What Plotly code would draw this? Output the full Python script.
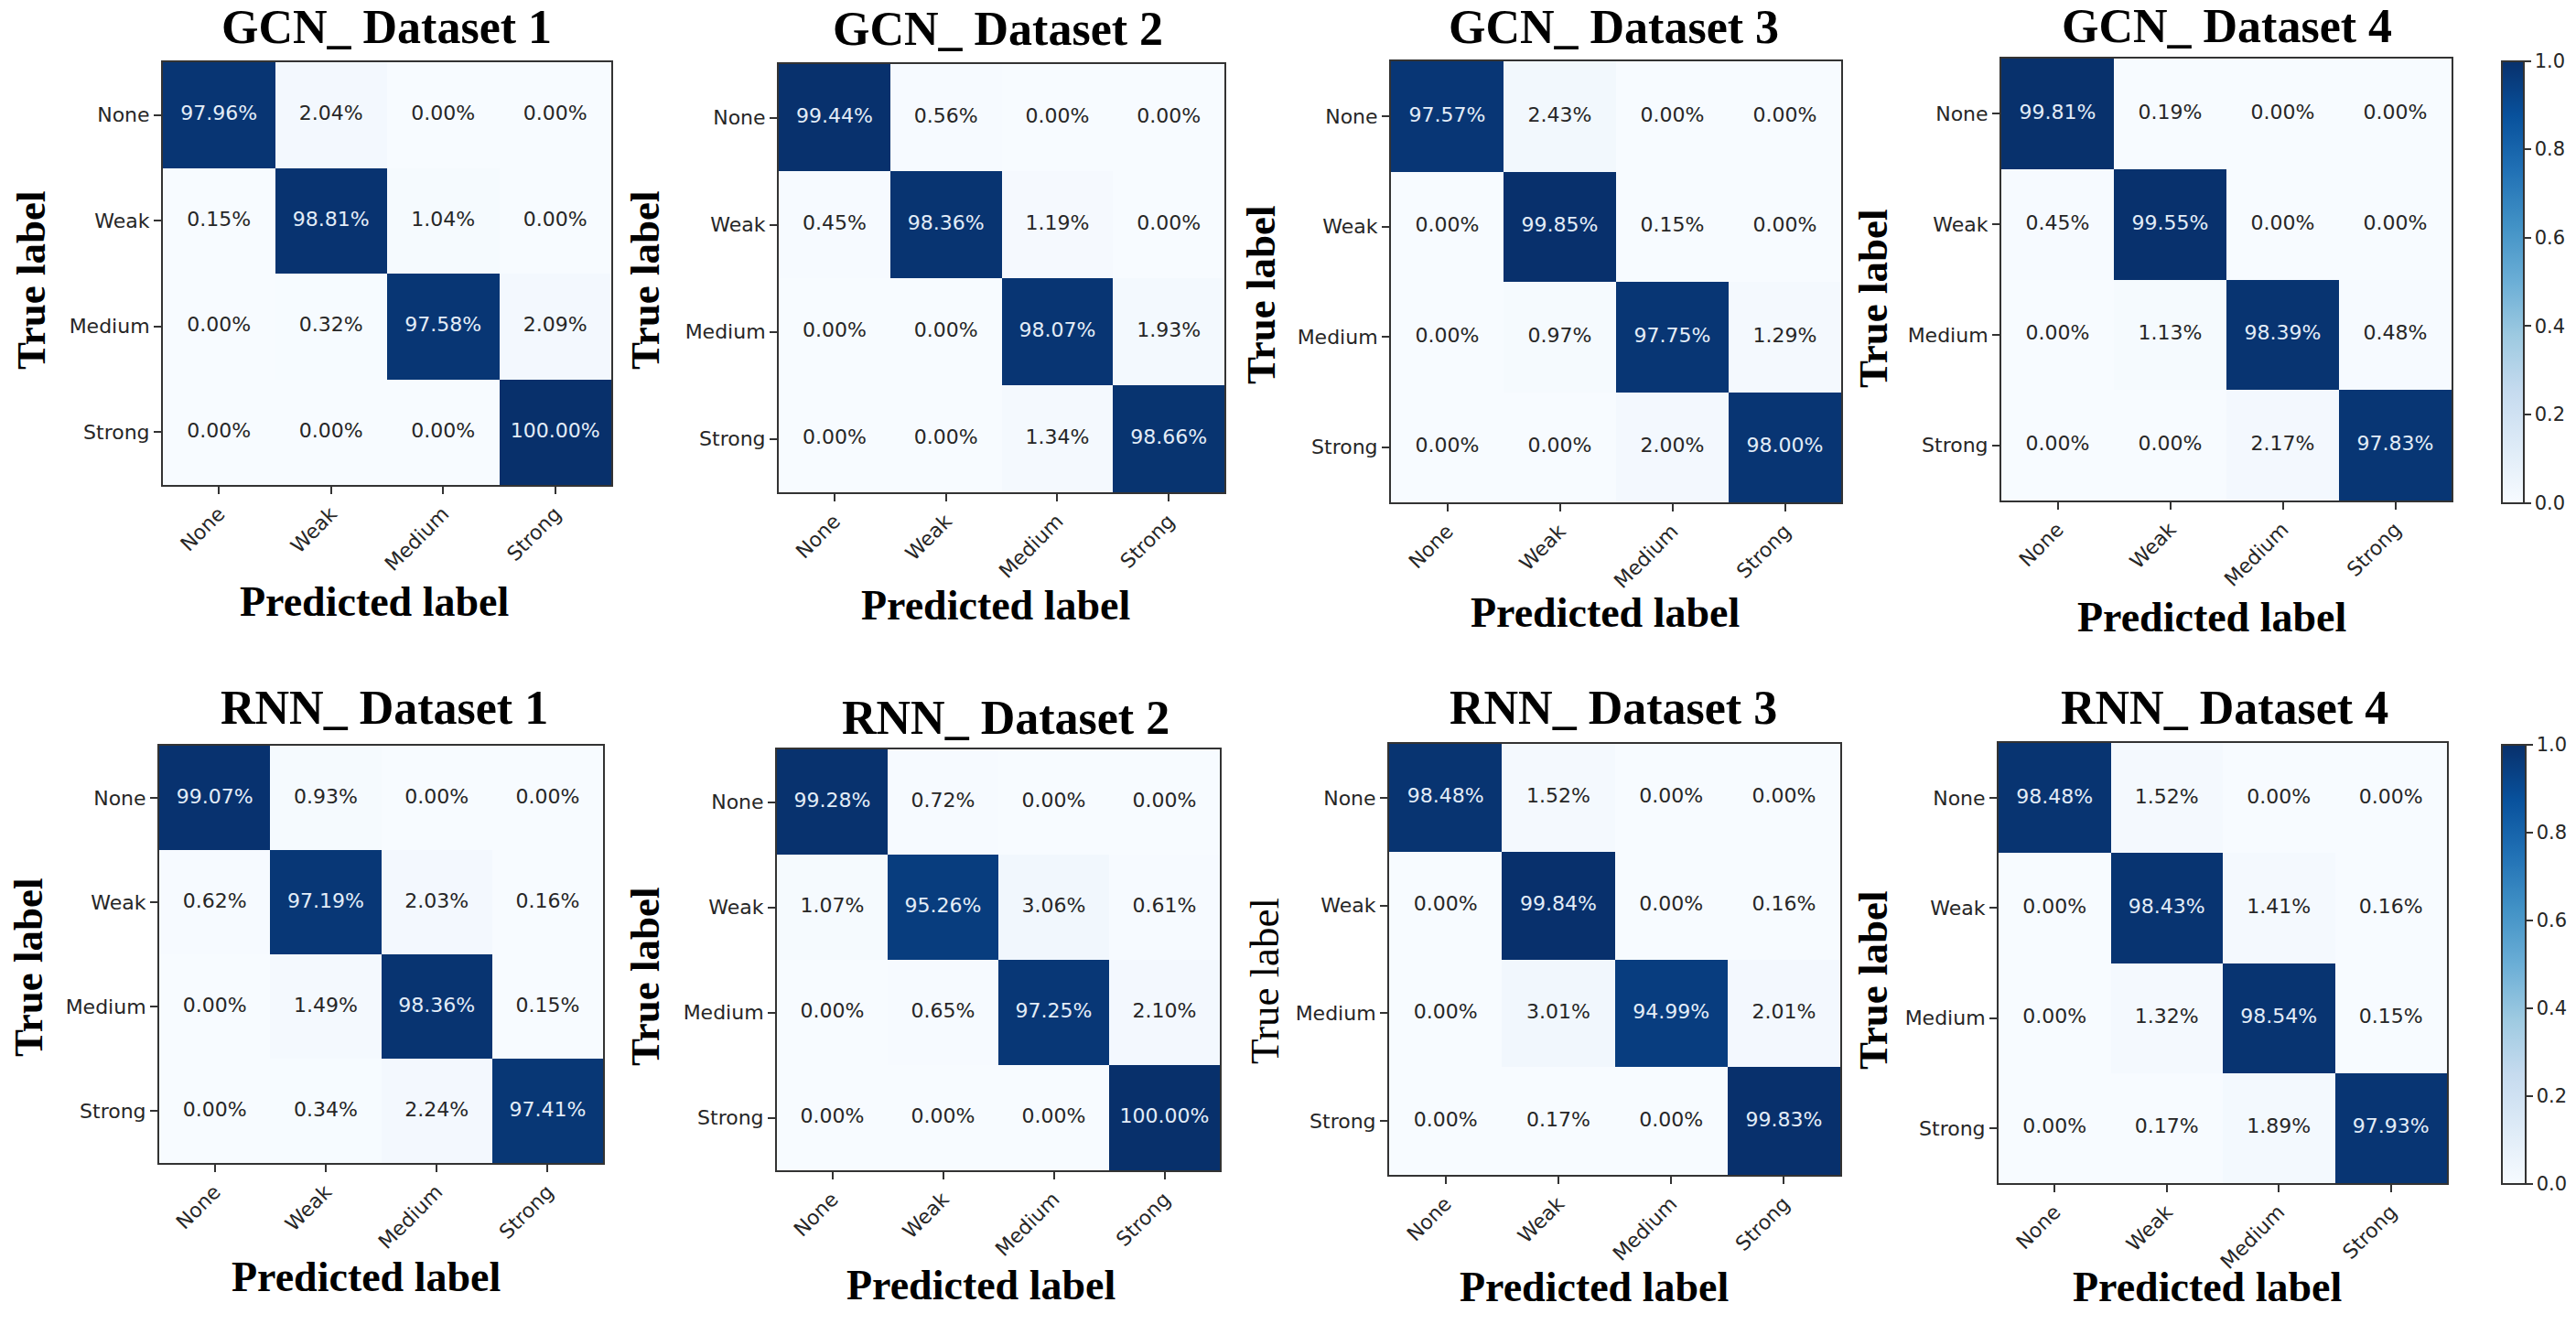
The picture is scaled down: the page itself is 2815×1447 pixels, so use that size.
import plotly.graph_objects as go

# Class names used on both axes
classes = ["None", "Weak", "Medium", "Strong"]

# Confusion matrices in percent (rows = true label, columns = predicted label)
gcn_d1 = [[97.96, 2.04, 0.00, 0.00],
          [0.15, 98.81, 1.04, 0.00],
          [0.00, 0.32, 97.58, 2.09],
          [0.00, 0.00, 0.00, 100.00]]
gcn_d2 = [[99.44, 0.56, 0.00, 0.00],
          [0.45, 98.36, 1.19, 0.00],
          [0.00, 0.00, 98.07, 1.93],
          [0.00, 0.00, 1.34, 98.66]]
gcn_d3 = [[97.57, 2.43, 0.00, 0.00],
          [0.00, 99.85, 0.15, 0.00],
          [0.00, 0.97, 97.75, 1.29],
          [0.00, 0.00, 2.00, 98.00]]
gcn_d4 = [[99.81, 0.19, 0.00, 0.00],
          [0.45, 99.55, 0.00, 0.00],
          [0.00, 1.13, 98.39, 0.48],
          [0.00, 0.00, 2.17, 97.83]]
rnn_d1 = [[99.07, 0.93, 0.00, 0.00],
          [0.62, 97.19, 2.03, 0.16],
          [0.00, 1.49, 98.36, 0.15],
          [0.00, 0.34, 2.24, 97.41]]
rnn_d2 = [[99.28, 0.72, 0.00, 0.00],
          [1.07, 95.26, 3.06, 0.61],
          [0.00, 0.65, 97.25, 2.10],
          [0.00, 0.00, 0.00, 100.00]]
rnn_d3 = [[98.48, 1.52, 0.00, 0.00],
          [0.00, 99.84, 0.00, 0.16],
          [0.00, 3.01, 94.99, 2.01],
          [0.00, 0.17, 0.00, 99.83]]
rnn_d4 = [[98.48, 1.52, 0.00, 0.00],
          [0.00, 98.43, 1.41, 0.16],
          [0.00, 1.32, 98.54, 0.15],
          [0.00, 0.17, 1.89, 97.93]]

matrices = [gcn_d1, gcn_d2, gcn_d3, gcn_d4, rnn_d1, rnn_d2, rnn_d3, rnn_d4]
titles = ["GCN_ Dataset 1", "GCN_ Dataset 2", "GCN_ Dataset 3", "GCN_ Dataset 4",
          "RNN_ Dataset 1", "RNN_ Dataset 2", "RNN_ Dataset 3", "RNN_ Dataset 4"]

# Colorbar ticks
cbar_ticks = [0.0, 0.2, 0.4, 0.6, 0.8, 1.0]

W, H = 2815, 1447

# Pixel boxes of each heatmap (left, right, top, bottom) - the panels are a bit misaligned
boxes = [(178, 668, 68, 530), (851, 1338, 70, 538), (1520, 2012, 67, 549), (2187, 2679, 64, 547),
         (174, 659, 815, 1271), (849, 1333, 819, 1279), (1518, 2011, 813, 1284), (2184, 2674, 812, 1293)]
# Title, x-title and y-title centres in pixels
title_pos = [(422, 30), (1090, 32), (1763, 30), (2433, 28),
             (420, 773), (1099, 784), (1763, 773), (2431, 773)]
xlab_pos = [(409, 657), (1088, 661), (1754, 670), (2417, 675),
            (400, 1395), (1072, 1404), (1742, 1406), (2412, 1406)]
ylab_pos = [(34, 307), (705, 307), (1378, 323), (2047, 326),
            (31, 1058), (705, 1068), (1382, 1072), (2047, 1071)]
ylab_bold = [True, True, True, True, True, True, False, True]

# matplotlib "Blues"
blues = [[0.0, "#f7fbff"], [0.125, "#deebf7"], [0.25, "#c6dbef"], [0.375, "#9ecae1"],
         [0.5, "#6baed6"], [0.625, "#4292c6"], [0.75, "#2171b5"], [0.875, "#08519c"],
         [1.0, "#08306b"]]

tick_font = dict(family="DejaVu Sans", size=22, color="#262626")
line_col = "#333333"

fig = go.Figure()
layout_axes = {}
annotations = []

for i, m in enumerate(matrices):
    n = str(i + 1) if i > 0 else ""
    ca = "coloraxis" if i < 4 else "coloraxis2"

    # heatmap cells (fraction 0..1 for the colour scale)
    z = [[v / 100 for v in row] for row in m]
    fig.add_trace(go.Heatmap(
        z=z, x=classes, y=classes, coloraxis=ca,
        xaxis="x" + n, yaxis="y" + n, hoverinfo="skip"
    ))

    # cell text
    tx, ty, tt, tc = [], [], [], []
    for r, row in enumerate(m):
        for c, v in enumerate(row):
            tx.append(classes[c])
            ty.append(classes[r])
            tt.append(f"{v:.2f}%")
            tc.append("#e3edf8" if v > 50 else "#262626")
    fig.add_trace(go.Scatter(
        x=tx, y=ty, text=tt, mode="text",
        textfont=dict(family="DejaVu Sans", size=22, color=tc),
        xaxis="x" + n, yaxis="y" + n, showlegend=False, hoverinfo="skip"
    ))

    left, right, top, bottom = boxes[i]
    layout_axes["xaxis" + n] = dict(
        domain=[left / W, right / W], anchor="y" + n,
        categoryorder="array", categoryarray=classes, range=[-0.5, 3.5],
        tickangle=-45, ticks="outside", ticklen=8, tickwidth=2, tickcolor=line_col,
        tickfont=tick_font, showline=True, mirror=True, linecolor=line_col, linewidth=2,
        showgrid=False, zeroline=False, fixedrange=True
    )
    layout_axes["yaxis" + n] = dict(
        domain=[1 - bottom / H, 1 - top / H], anchor="x" + n,
        categoryorder="array", categoryarray=classes, range=[3.5, -0.5],
        ticks="outside", ticklen=8, tickwidth=2, tickcolor=line_col,
        tickfont=tick_font, showline=True, mirror=True, linecolor=line_col, linewidth=2,
        showgrid=False, zeroline=False, fixedrange=True
    )

    # panel title
    annotations.append(dict(
        text=titles[i], x=title_pos[i][0] / W, y=1 - title_pos[i][1] / H,
        xref="paper", yref="paper", xanchor="center", yanchor="middle", showarrow=False,
        font=dict(family="Liberation Serif", size=52, color="black", weight="bold")
    ))
    # x axis label
    annotations.append(dict(
        text="Predicted label", x=xlab_pos[i][0] / W, y=1 - xlab_pos[i][1] / H,
        xref="paper", yref="paper", xanchor="center", yanchor="middle", showarrow=False,
        font=dict(family="Liberation Serif", size=46, color="black", weight="bold")
    ))
    # y axis label
    annotations.append(dict(
        text="True label", x=ylab_pos[i][0] / W, y=1 - ylab_pos[i][1] / H, textangle=-90,
        xref="paper", yref="paper", xanchor="center", yanchor="middle", showarrow=False,
        font=dict(family="Liberation Serif", size=45, color="black",
                  weight="bold" if ylab_bold[i] else "normal")
    ))


def make_colorbar(x_left, y_mid, length, thick):
    return dict(
        x=x_left / W, xanchor="left", xpad=0, y=1 - y_mid / H, yanchor="middle", ypad=0,
        len=length, lenmode="pixels", thickness=thick, thicknessmode="pixels",
        outlinecolor=line_col, outlinewidth=2,
        ticks="outside", ticklen=7, tickwidth=2, tickcolor=line_col,
        tickvals=cbar_ticks, tickformat=".1f",
        tickfont=dict(family="DejaVu Sans", size=21, color="#262626")
    )


fig.update_layout(
    width=W, height=H,
    margin=dict(l=0, r=0, t=0, b=0),
    paper_bgcolor="white", plot_bgcolor="white",
    showlegend=False,
    coloraxis=dict(colorscale=blues, cmin=0, cmax=1,
                   colorbar=make_colorbar(2734, 308, 483, 24)),
    coloraxis2=dict(colorscale=blues, cmin=0, cmax=1,
                    colorbar=make_colorbar(2734, 1054, 480, 26)),
    annotations=annotations,
    **layout_axes
)

# remove the default page margin so the figure sits at the window's top-left corner
fig.write_html("out.html", config={"displayModeBar": False},
               post_script="document.body.style.margin='0px';")
